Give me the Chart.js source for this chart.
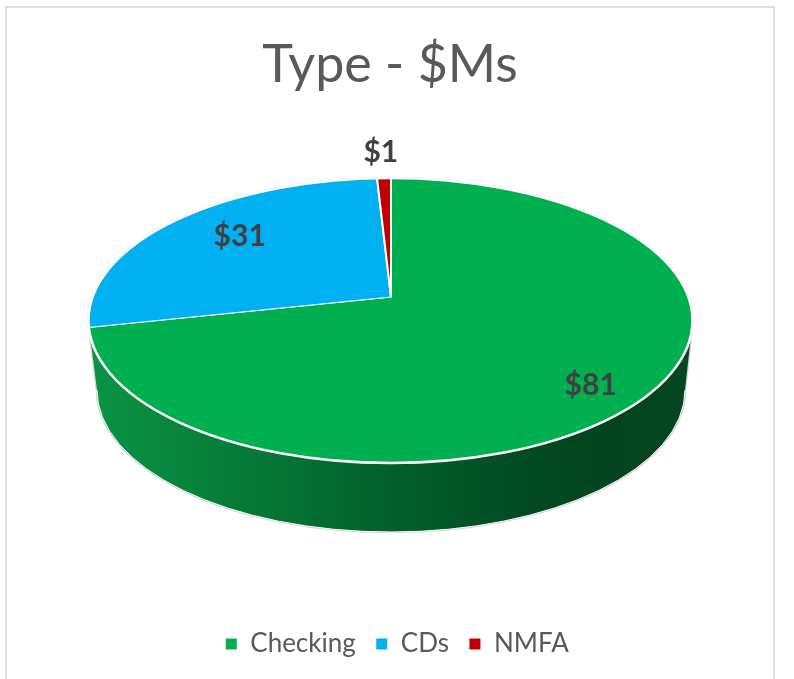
<!DOCTYPE html>
<html>
<head>
<meta charset="utf-8">
<style>
html,body{margin:0;padding:0;background:#fff;overflow:hidden}
#wrap{position:relative;width:794px;height:679px}
#frame{position:absolute;left:5px;top:6px;width:766px;height:700px;border:2px solid #e0e0e0;pointer-events:none}
</style>
<script src="https://cdn.jsdelivr.net/npm/chart.js@4"></script>
</head>
<body>
<div id="wrap"><canvas id="c" width="794" height="679"></canvas><div id="frame"></div></div>
<script>
const categories = ['Checking', 'CDs', 'NMFA'];
const seriesValues = [81, 31, 1];
const sliceColors = ['#00b050', '#00b0f0', '#c00000'];
const labelTexts = ['$81', '$31', '$1'];
const chartTitle = 'Type - $Ms';

// 3-D look of the disc
const tilt = 0.475;
const apex = {x: 391, y: 297};
const top3d = {x: 390.5, y: 320.5, rx: 302, ry: 142.5};
const low3d = {x: 391, y: 390, rx: 294, ry: 142};
const sideStops = [[0, '#0a9344'], [0.22, '#067d38'], [0.5, '#02602c'], [0.7, '#014d23'], [0.85, '#02441f'], [1, '#03461f']];
const labelRadius = [271, 200, 307];
const labelShift = [3.5, 3.4, -0.3];

function silhouette(ctx) {
  ctx.beginPath();
  ctx.ellipse(top3d.x, top3d.y, top3d.rx, top3d.ry, 0, Math.PI, 0);
  ctx.lineTo(top3d.x + top3d.rx - 1, top3d.y + 10);
  ctx.lineTo(low3d.x + low3d.rx, low3d.y);
  ctx.ellipse(low3d.x, low3d.y, low3d.rx, low3d.ry, 0, 0, Math.PI);
  ctx.lineTo(top3d.x - top3d.rx + 1, top3d.y + 10);
  ctx.closePath();
}

const disc3d = {
  id: 'disc3d',
  afterLayout(chart) {
    chart.titleBlock.left -= 7;
    chart.titleBlock.right -= 7;
  },
  beforeDatasetsDraw(chart) {
    const ctx = chart.ctx;
    ctx.save();
    silhouette(ctx);
    ctx.strokeStyle = '#d2d2d2';
    ctx.lineWidth = 2.5;
    ctx.stroke();
    const g = ctx.createLinearGradient(low3d.x - low3d.rx, 0, low3d.x + low3d.rx, 0);
    sideStops.forEach(s => g.addColorStop(s[0], s[1]));
    ctx.fillStyle = g;
    silhouette(ctx);
    ctx.fill();
    ctx.beginPath();
    ctx.ellipse(low3d.x, low3d.y, low3d.rx, low3d.ry, 0, 0, Math.PI);
    ctx.strokeStyle = '#ffffff';
    ctx.lineWidth = 1;
    ctx.stroke();
    ctx.restore();

    const arc = chart.getDatasetMeta(0).data[0];
    ctx.save();
    ctx.beginPath();
    ctx.ellipse(top3d.x, top3d.y, top3d.rx, top3d.ry, 0, 0, Math.PI * 2);
    ctx.clip();
    ctx.translate(apex.x, apex.y);
    ctx.scale(1, tilt);
    ctx.translate(-arc.x, -arc.y);
  },
  afterDatasetsDraw(chart) {
    const ctx = chart.ctx;
    ctx.restore();
    ctx.save();
    ctx.beginPath();
    ctx.ellipse(top3d.x, top3d.y, top3d.rx, top3d.ry, 0, 0, Math.PI * 2);
    ctx.strokeStyle = '#ffffff';
    ctx.lineWidth = 2.5;
    ctx.stroke();
    ctx.fillStyle = '#404040';
    ctx.font = 'bold 30px Lato, Carlito, sans-serif';
    ctx.textAlign = 'center';
    ctx.textBaseline = 'middle';
    chart.getDatasetMeta(0).data.forEach((a, i) => {
      const m = (a.startAngle + a.endAngle) / 2 + labelShift[i] * Math.PI / 180;
      ctx.fillText(labelTexts[i], apex.x + labelRadius[i] * Math.cos(m), apex.y + labelRadius[i] * Math.sin(m) * tilt + 1);
    });
    ctx.restore();
  }
};

new Chart(document.getElementById('c'), {
  type: 'pie',
  data: {
    labels: categories,
    datasets: [{
      data: seriesValues,
      backgroundColor: sliceColors,
      borderColor: '#ffffff',
      borderWidth: 2,
      clip: false
    }]
  },
  plugins: [disc3d],
  options: {
    responsive: false,
    animation: false,
    radius: 365,
    layout: {padding: {top: 6, bottom: 12, left: 0, right: 0}},
    plugins: {
      tooltip: {enabled: false},
      title: {
        display: true,
        text: chartTitle,
        color: '#595959',
        font: {family: 'Lato, Carlito, sans-serif', size: 52, weight: 'normal'},
        padding: {top: 28, bottom: 14}
      },
      legend: {
        position: 'bottom',
        labels: {
          usePointStyle: true,
          pointStyle: 'rect',
          boxWidth: 12,
          boxHeight: 13,
          color: '#595959',
          padding: 20,
          font: {family: 'Lato, Carlito, sans-serif', size: 26}
        }
      }
    }
  }
});
</script>
</body>
</html>
